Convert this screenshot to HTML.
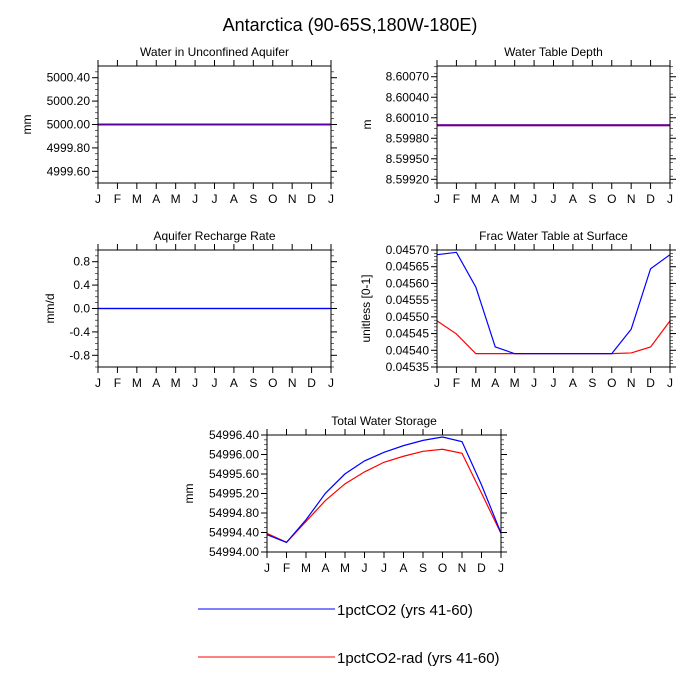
<!DOCTYPE html>
<html><head><meta charset="utf-8"><style>
body{margin:0;background:#fff}
svg{display:block;font-family:"Liberation Sans",Arial,sans-serif}
</style></head><body>
<svg id="chart" width="700" height="700" viewBox="0 0 700 700">
<text x="350" y="31" text-anchor="middle" font-size="18">Antarctica (90-65S,180W-180E)</text>
<g id="panels"></g>
<g>
<line x1="198" y1="609" x2="335" y2="609" stroke="#0000ff" stroke-width="1"/>
<text x="337" y="615" font-size="15">1pctCO2 (yrs 41-60)</text>
<line x1="198" y1="657" x2="335" y2="657" stroke="#ff0000" stroke-width="1"/>
<text x="337" y="663" font-size="15">1pctCO2-rad (yrs 41-60)</text>
</g>
</svg>
<script>
const months = ["J","F","M","A","M","J","J","A","S","O","N","D","J"];
const aquiferBlue = [5000,5000,5000,5000,5000,5000,5000,5000,5000,5000,5000,5000,5000];
const aquiferRed = [5000,5000,5000,5000,5000,5000,5000,5000,5000,5000,5000,5000,5000];
const aquiferTicks = ["4999.60","4999.80","5000.00","5000.20","5000.40"];
const depthBlue = [8.59999,8.59999,8.59999,8.59999,8.59999,8.59999,8.59999,8.59999,8.59999,8.59999,8.59999,8.59999,8.59999];
const depthRed = [8.59999,8.59999,8.59999,8.59999,8.59999,8.59999,8.59999,8.59999,8.59999,8.59999,8.59999,8.59999,8.59999];
const depthTicks = ["8.59920","8.59950","8.59980","8.60010","8.60040","8.60070"];
const rechargeBlue = [0,0,0,0,0,0,0,0,0,0,0,0,0];
const rechargeRed = [0,0,0,0,0,0,0,0,0,0,0,0,0];
const rechargeTicks = ["-0.8","-0.4","0.0","0.4","0.8"];
const fracBlue = [0.045686,0.045693,0.045589,0.045410,0.045390,0.045390,0.045390,0.045390,0.045390,0.045390,0.045463,0.045644,0.045686];
const fracRed = [0.045488,0.045449,0.045390,0.045390,0.045390,0.045390,0.045390,0.045390,0.045390,0.045390,0.045392,0.045410,0.045488];
const fracTicks = ["0.04535","0.04540","0.04545","0.04550","0.04555","0.04560","0.04565","0.04570"];
const storageBlue = [54994.355,54994.198,54994.661,54995.207,54995.602,54995.868,54996.045,54996.182,54996.290,54996.359,54996.264,54995.377,54994.389];
const storageRed = [54994.380,54994.198,54994.627,54995.057,54995.398,54995.643,54995.841,54995.964,54996.066,54996.107,54996.025,54995.207,54994.380];
const storageTicks = ["54994.00","54994.40","54994.80","54995.20","54995.60","54996.00","54996.40"];

const NS="http://www.w3.org/2000/svg";
const root=document.getElementById('panels');
function mk(tag,attrs,parent){const e=document.createElementNS(NS,tag);for(const k in attrs)e.setAttribute(k,attrs[k]);parent.appendChild(e);return e;}

function panel(o){
  const g=mk('g',{},root);
  
  
  const L=o.x,R=o.x+o.w,T=o.y,B=o.y+o.h;
  const xs=i=>L+i*(o.w/12);
  const ys=v=>B-(v-o.ymin)/(o.ymax-o.ymin)*o.h;
  const t=mk('text',{x:(L+R)/2,y:T-10,'text-anchor':'middle','font-size':12},g);
  t.textContent=o.title;
  
  
  const yl=mk('text',{x:0,y:0,'text-anchor':'middle','font-size':12,transform:`translate(${o.ylx},${(T+B)/2}) rotate(-90)`},g);
  yl.textContent=o.ylabel;
  
  
  for(let v=o.ymin;v<=o.ymax+1e-12;v+=o.minor){
    const y=ys(v); if(y<T-0.5||y>B+0.5) continue;
    mk('line',{x1:L-3,y1:y,x2:L,y2:y,stroke:'#000','stroke-width':0.6},g);
    mk('line',{x1:R,y1:y,x2:R+3,y2:y,stroke:'#000','stroke-width':0.6},g);
  }
  o.ticks.forEach(s=>{
    const y=ys(parseFloat(s));
    mk('line',{x1:L-6,y1:y,x2:L,y2:y,stroke:'#000','stroke-width':1},g);
    mk('line',{x1:R,y1:y,x2:R+6,y2:y,stroke:'#000','stroke-width':1},g);
    const tx=mk('text',{x:L-8,y:y+4,'text-anchor':'end','font-size':12},g);
    tx.textContent=s;
    
    
  });
  months.forEach((m,i)=>{
    const x=xs(i);
    mk('line',{x1:x,y1:B,x2:x,y2:B+6,stroke:'#000','stroke-width':1},g);
    mk('line',{x1:x,y1:T-6,x2:x,y2:T,stroke:'#000','stroke-width':1},g);
    const tx=mk('text',{x:x,y:B+20,'text-anchor':'middle','font-size':12},g);
    tx.textContent=m;
    
    
  });
  const pts=a=>a.map((v,i)=>xs(i).toFixed(2)+','+ys(v).toFixed(2)).join(' ');
  const pr=mk('polyline',{points:pts(o.red),fill:'none',stroke:'#ff0000','stroke-width':o.sw||1.2},g);
  
  
  const pb=mk('polyline',{points:pts(o.blue),fill:'none',stroke:'#0000ff','stroke-width':o.sw||1.2,'stroke-opacity':o.bop||1},g);
  
  
  mk('rect',{x:L,y:T,width:o.w,height:o.h,fill:'none',stroke:'#000','stroke-width':1},g);
}
panel({name:'panel-water-unconfined-aquifer',title:'Water in Unconfined Aquifer',ylabel:'mm',ylx:31,x:98,y:66,w:233,h:117,ymin:4999.5,ymax:5000.5,minor:0.05,ticks:aquiferTicks,blue:aquiferBlue,red:aquiferRed,sw:2,bop:0.65});
panel({name:'panel-water-table-depth',title:'Water Table Depth',ylabel:'m',ylx:371,x:437,y:66,w:233,h:117,ymin:8.599146,ymax:8.600857,minor:0.0001,ticks:depthTicks,blue:depthBlue,red:depthRed,sw:2,bop:0.65});
panel({name:'panel-aquifer-recharge-rate',title:'Aquifer Recharge Rate',ylabel:'mm/d',ylx:54,x:98,y:250,w:233,h:117,ymin:-1,ymax:1,minor:0.1,ticks:rechargeTicks,blue:rechargeBlue,red:rechargeRed});
panel({name:'panel-frac-water-table-surface',title:'Frac Water Table at Surface',ylabel:'unitless [0-1]',ylx:370,x:437,y:250,w:233,h:117,ymin:0.04535,ymax:0.04570,minor:0.00001,ticks:fracTicks,blue:fracBlue,red:fracRed});
panel({name:'panel-total-water-storage',title:'Total Water Storage',ylabel:'mm',ylx:193,x:267,y:435,w:234,h:117,ymin:54994.0,ymax:54996.4,minor:0.1,ticks:storageTicks,blue:storageBlue,red:storageRed});
</script>
</body></html>
